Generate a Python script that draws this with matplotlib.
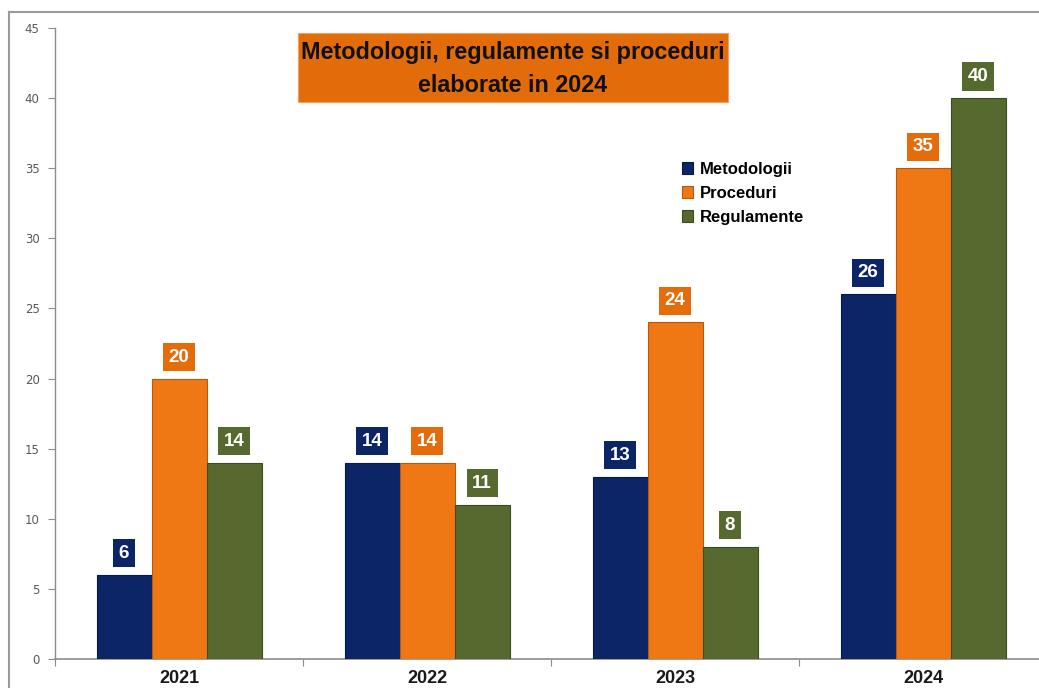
import matplotlib
matplotlib.use("Agg")
import matplotlib.pyplot as plt
import numpy as np
from matplotlib.patches import Rectangle
from matplotlib.lines import Line2D

years = ["2021", "2022", "2023", "2024"]
series_names = ["Metodologii", "Proceduri", "Regulamente"]
metodologii = [6, 14, 13, 26]
proceduri = [20, 14, 24, 35]
regulamente = [14, 11, 8, 40]
yticks = [0, 5, 10, 15, 20, 25, 30, 35, 40, 45]
title_lines = ["Metodologii, regulamente si proceduri", "elaborate in 2024"]

colors = ["#0B2566", "#F07814", "#56692E"]
label_colors = ["#0B2566", "#E46C0A", "#56692E"]
edge_colors = ["#061940", "#B85A0C", "#3D4C20"]

FONT = ["Liberation Sans", "DejaVu Sans"]

W, H = 1039, 688
fig = plt.figure(figsize=(W / 100, H / 100), dpi=100)

# outer frame
fig.add_artist(Line2D([9 / W, 9 / W], [0, 1 - 12 / H], transform=fig.transFigure,
                      color="#9A9A9A", lw=1.5))
fig.add_artist(Line2D([9 / W, 1.0], [1 - 12 / H, 1 - 12 / H], transform=fig.transFigure,
                      color="#9A9A9A", lw=1.5))

x0, x1 = 55, 1047
y0, y1 = 659, 28
ax = fig.add_axes([x0 / W, (H - y0) / H, (x1 - x0) / W, (y0 - y1) / H])

x = np.arange(len(years))
bw = 55 / 248
data = [metodologii, proceduri, regulamente]
for i, (vals, c, ec, lc, name) in enumerate(zip(data, colors, edge_colors, label_colors, series_names)):
    pos = x + (i - 1) * bw
    ax.bar(pos, vals, width=bw, color=c, edgecolor=ec, linewidth=0.8, label=name, zorder=3)
    for p, v in zip(pos, vals):
        ax.annotate(str(v), (p, v), xytext=(0, 15.5), textcoords="offset points",
                    ha="center", va="center", color="white", fontsize=13.5,
                    fontweight="bold", family=FONT,
                    bbox=dict(boxstyle="square,pad=0.3", fc=lc, ec="none"), zorder=4)

ax.set_xlim(-0.5, 3.5)
ax.set_ylim(0, 45)
ax.set_yticks(yticks)
ax.set_yticklabels([str(t) for t in yticks], fontsize=8.5, color="#595959")
ax.set_xticks(np.arange(-0.5, 3.6, 1.0))
ax.set_xticklabels([])
ax.tick_params(axis="x", which="major", length=5, color="#8C8C8C", direction="out")
ax.tick_params(axis="y", length=5, color="#8C8C8C", direction="out", pad=6)
for s in ["top", "right"]:
    ax.spines[s].set_visible(False)
ax.spines["left"].set_color("#8C8C8C")
ax.spines["bottom"].set_color("#8C8C8C")
ax.spines["left"].set_linewidth(1.0)
ax.spines["bottom"].set_linewidth(1.2)

# year labels (near the bottom edge, as in the reference)
for xi, yr in zip(x, years):
    ax.annotate(yr, (xi, 0), xytext=(0, -(687 - y0) * 0.72), textcoords="offset points",
                ha="center", va="bottom", fontsize=13, fontweight="bold",
                color="#1a1a1a", family=FONT, annotation_clip=False)

# title box
fig.add_artist(Rectangle((298 / W, 1 - 102 / H), (728 - 298) / W, (102 - 33) / H,
                         transform=fig.transFigure, fc="#E36C0A", ec="#F0A060", lw=0.8))
for ty, line in zip([52, 85], title_lines):
    fig.text(513 / W, 1 - ty / H, line, ha="center", va="center", fontsize=16.8,
             fontweight="bold", family=FONT, color="#111111")

leg = ax.legend(loc="upper left", bbox_to_anchor=((675 - x0) / (x1 - x0), (y0 - 155) / (y0 - y1)),
                frameon=False, prop={"family": FONT, "weight": "bold", "size": 12},
                handlelength=0.7, handleheight=0.7, handletextpad=0.4, labelspacing=0.55,
                borderaxespad=0)

fig.savefig("out.png", dpi=100)
